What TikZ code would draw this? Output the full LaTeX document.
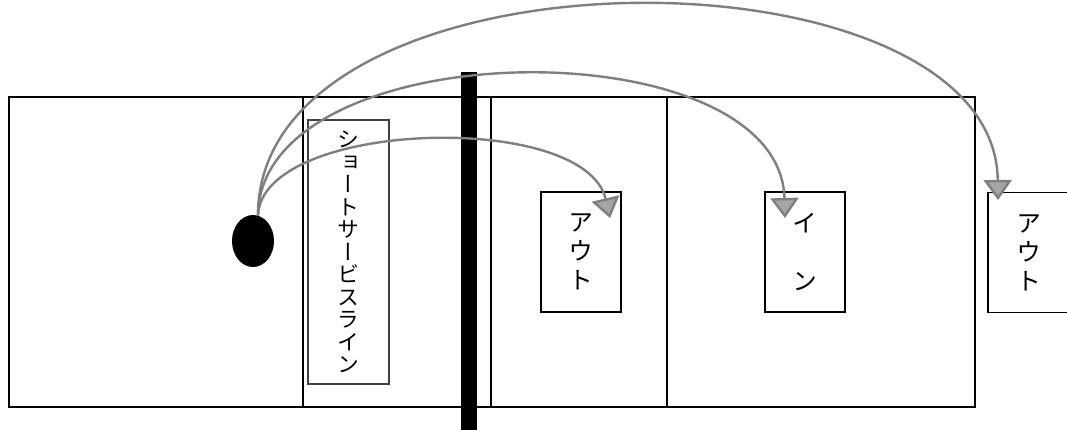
\documentclass[tikz,border=0pt]{standalone}
\usepackage{fontspec}
\newfontfamily\jpv[RawFeature=+vert]{Noto Sans CJK JP}
\usetikzlibrary{arrows.meta,shapes.geometric}
\definecolor{shotgray}{HTML}{7F7F7F}
\definecolor{tipgray}{HTML}{A5A5A5}
\begin{document}
\begin{tikzpicture}[x=1pt,y=-1pt,
  courtline/.style={line width=2pt, draw=black},
  netbar/.style={fill=black},
  txtbox/.style={draw=black, line width=1.4pt, rectangle, inner sep=0pt,
    minimum width=80pt, minimum height=120pt, align=center,
    font=\jpv\fontsize{25}{29}\selectfont},
  slbox/.style={draw=black!75, line width=1.2pt, rectangle, inner sep=0pt,
    minimum width=81pt, minimum height=264pt, align=center,
    font=\jpv\fontsize{22}{22.5}\selectfont},
  ballstyle/.style={ellipse, fill=black, inner sep=0pt, minimum width=42pt, minimum height=52pt},
  shot/.style={draw=shotgray, line width=2.4pt,
    -{Triangle[width=28pt,length=20pt,fill=tipgray]}},
]
\useasboundingbox (0,0) rectangle (1067,430);
% court
\draw[courtline] (9,97) rectangle (975,407);
\draw[courtline] (303,97) -- (303,407);
\draw[courtline] (491,97) -- (491,407);
\draw[courtline] (667,97) -- (667,407);
% net
\fill[netbar] (461,72) rectangle (477,430);
% boxes
\node[slbox] (sl) at (348.5,252) {シ\\ョ\\ー\\ト\\サ\\ー\\ビ\\ス\\ラ\\イ\\ン};
\node[txtbox] (out1) at (581,252) {ア\\ウ\\ト};
\node[txtbox] (in1) at (805,252) {イ\\\mbox{}\\ン};
\node[txtbox, minimum width=82pt] (out2) at (1029,252.5) {ア\\ウ\\ト};
% ball
\node[ballstyle] (ball) at (253,241) {};
% targets
\coordinate (t1) at (610,218);
\coordinate (t2) at (785,218);
\coordinate (t3) at (998,200);
% shots
\draw[shot] (ball.79) .. controls (262,120) and (585,110) .. (t1);
\draw[shot] (ball.79) .. controls (260,30) and (780,25) .. (t2);
\draw[shot] (ball.79) .. controls (258,-62) and (995,-62) .. (t3);
\end{tikzpicture}
\end{document}
